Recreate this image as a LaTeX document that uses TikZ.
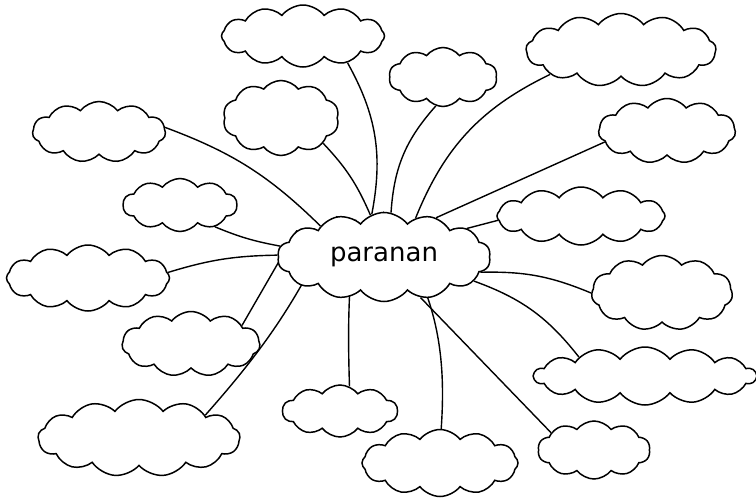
\documentclass[tikz,border=0pt]{standalone}
\usepackage{fontspec}
\setmainfont{DejaVu Sans}
\usetikzlibrary{shapes.symbols,backgrounds}
\begin{document}
\begin{tikzpicture}[x=1pt,y=-1pt,line width=1.5pt,
  puff/.style={cloud, cloud puffs=#1, cloud puff arc=105, cloud ignores aspect,
    draw, line width=1.5pt, fill=white, inner sep=0pt},
  link/.style={draw, line width=1.4pt}]
\useasboundingbox (0,0) rectangle (756,499);
\node[puff=14, minimum width=213pt, minimum height=89pt] (c) at (384,257)
  {\fontsize{26}{30}\selectfont paranan};
\node[puff=12, minimum width=163pt, minimum height=62pt] (A) at (303,36) {};
\node[puff=10, minimum width=116pt, minimum height=75pt] (B) at (281,118) {};
\node[puff=11, minimum width=133pt, minimum height=61pt] (C) at (99,132) {};
\node[puff=10, minimum width=114pt, minimum height=53pt] (D) at (180,205) {};
\node[puff=10, minimum width=108pt, minimum height=59pt] (E) at (443,77) {};
\node[puff=13, minimum width=190pt, minimum height=73pt] (F) at (621,50) {};
\node[puff=11, minimum width=137pt, minimum height=65pt] (G) at (667,131) {};
\node[puff=12, minimum width=168pt, minimum height=58pt] (H) at (581,216) {};
\node[puff=12, minimum width=163pt, minimum height=66pt] (I) at (88,278) {};
\node[puff=11, minimum width=138pt, minimum height=65pt] (J) at (191,344) {};
\node[puff=13, minimum width=202pt, minimum height=77pt] (K) at (139,438) {};
\node[puff=10, minimum width=115pt, minimum height=52pt] (L) at (340,411) {};
\node[puff=12, minimum width=156pt, minimum height=67pt] (M) at (440,463) {};
\node[puff=11, minimum width=141pt, minimum height=75pt] (N) at (662,293) {};
\node[puff=14, minimum width=222pt, minimum height=58pt] (O) at (645,376) {};
\node[puff=10, minimum width=112pt, minimum height=58pt] (P) at (594,450) {};
\begin{scope}[on background layer]
\draw[link] (A.-31) to[bend left=20] (c.106);
\draw[link] (B.-31) to[bend left=10] (c.108);
\draw[link] (C.4) to[bend left=12] (c.154);
\draw[link] (D.-32) to[bend right=6] (c.174);
\draw[link] (E.-104) to[bend right=19] (c.81);
\draw[link] (F.-161) to[bend right=21] (c.51);
\draw[link] (G.-170) -- (c.37);
\draw[link] (H.-177) -- (c.19);
\draw[link] (I.4) to[bend left=8] (c.179);
\draw[link] (J.20) -- (c.163);
\draw[link] (K.19) to[bend right=8] (c.139);
\draw[link] (L.69) to[bend left=4] (c.127);
\draw[link] (M.88) to[bend right=19] (c.91);
\draw[link] (P.158) -- (c.-48);
\draw[link] (O.164) to[bend right=16] (c.-15);
\draw[link] (N.180) to[bend right=12] (c.-9);
\end{scope}
\end{tikzpicture}
\end{document}
